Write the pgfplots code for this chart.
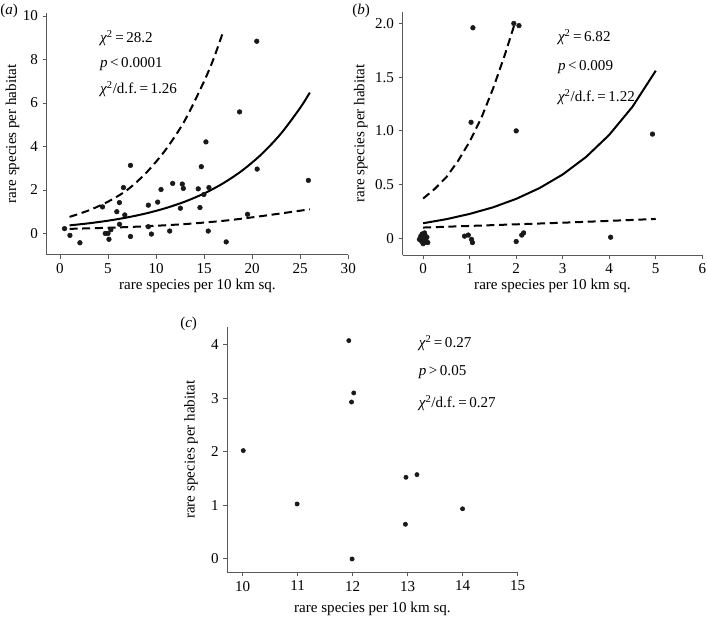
\documentclass[border=0pt]{standalone}
\usepackage{fontspec}
\setmainfont{Liberation Serif}
\usepackage{pgfplots}
\pgfplotsset{compat=1.18}

\definecolor{axisgray}{gray}{0.35}
\pgfplotsset{
  panel/.style={
    scale only axis,
    anchor=south west,
    axis x line*=bottom, axis y line*=left,
    axis line style={axisgray, line width=0.6pt, -},
    tick style={axisgray, line width=0.6pt},
    tick align=outside, major tick length=3pt,
    font=\fontsize{11.3}{13}\selectfont,
    /pgf/number format/assume math mode=true,
    xlabel={rare species per 10 km sq.},
    ylabel={rare species per habitat},
    xlabel style={yshift=3pt},
    clip=false,
  },
  % the y label is rotated, so +yshift moves it to the left
  ylab/.style={ylabel style={at={(axis description cs:0,0.5)}, anchor=center, yshift=#1}},
  dot/.style={only marks, mark=*, mark size=1.75pt, black!90},
  fit/.style={black, line width=1.5pt, no marks},
  ci/.style={black, line width=1.5pt, no marks, dash pattern=on 6pt off 3.5pt},
}
\newcommand{\chisq}{{\itshape χ}\textsuperscript{2}}

\begin{document}
\begin{tikzpicture}
\path[use as bounding box] (0,0) rectangle (530.25pt,462.75pt);

% (a)
\begin{axis}[panel, ylab=25.6pt, at={(35.0pt,271.7pt)}, width=226.2pt, height=181.3pt,
  xmin=-1.38, xmax=30, ymin=-0.98, ymax=10.14,
  xtick={0,5,...,30}, ytick={0,2,...,10}]
\addplot[dot] coordinates {(0.48,0.22)(1.04,-0.09)(2.08,-0.43)(4.43,1.22)(4.72,0.0)
 (5.0,0.0)(5.1,-0.27)(5.3,0.17)(5.92,1.0)(6.19,1.42)(6.2,0.42)(6.61,2.11)(6.75,0.85)
 (7.34,3.13)(7.34,-0.14)(9.2,1.3)(9.2,0.31)(9.52,-0.03)(10.17,1.44)(10.52,2.02)
 (11.42,0.11)(11.73,2.3)(12.53,1.16)(12.73,2.27)(12.84,2.07)(14.39,2.05)(14.57,1.19)
 (14.71,3.07)(14.98,1.79)(15.19,4.21)(15.43,0.11)(15.5,2.11)(17.3,-0.39)(18.69,5.59)
 (19.52,0.88)(20.48,8.84)(20.52,2.96)(25.85,2.44)};
\addplot[fit, smooth] coordinates {(1,0.37)(3,0.465)(5,0.585)(7,0.736)(9,0.925)(11,1.163)
 (13,1.462)(15,1.838)(17,2.311)(19,2.906)(21,3.654)(23,4.594)(25,5.778)(26,6.48)};
\addplot[ci, smooth] coordinates {(1,0.76)(3,1.06)(5,1.46)(7,2.0)(9,2.8)(11,3.85)
 (13,5.2)(15,7.0)(16,8.05)(17,9.3)};
\addplot[ci, smooth] coordinates {(1,0.21)(5,0.26)(9,0.33)(13,0.43)(17,0.58)(20,0.74)
 (23,0.92)(26,1.11)};
\node[anchor=west] at (axis cs:3.7,9.0) {\chisq\,=\,28.2};
\node[anchor=west] at (axis cs:3.7,7.8) {\textit{p}\,<\,0.0001};
\node[anchor=west] at (axis cs:3.7,6.63) {\chisq/d.f.\,=\,1.26};
\end{axis}

% (b)
\begin{axis}[panel, ylab=31.5pt, at={(302.0pt,271.3pt)}, width=224.7pt, height=182.7pt,
  xmin=-0.44, xmax=6, ymin=-0.158, ymax=2.11,
  xtick={0,...,6}, ytick={0,0.5,1,1.5,2}, yticklabels={0,0.5,1.0,1.5,2.0}]
\addplot[dot] coordinates {(-0.08,-0.01)(-0.05,0.02)(-0.02,0.04)(0.0,0.0)(0.02,-0.04)
 (0.04,0.03)(0.06,-0.02)(0.08,0.01)(0.1,-0.04)(0.03,0.05)(-0.03,-0.03)(0.05,0.0)(0.0,-0.05)
 (0.89,0.02)(0.97,0.03)(1.04,-0.01)(1.06,-0.04)(1.07,1.96)(1.03,1.08)
 (1.95,2.0)(2.06,1.98)(2.0,1.0)(4.93,0.97)(4.03,0.01)(2.0,-0.03)(2.12,0.03)(2.16,0.05)};
\addplot[fit] coordinates {(0,0.14)(0.5,0.178)(1,0.227)(1.5,0.288)(2,0.367)(2.5,0.467)
 (3,0.594)(3.5,0.756)(4,0.963)(4.5,1.225)(5,1.56)};
\addplot[ci] coordinates {(0,0.37)(0.25,0.46)(0.5,0.57)(0.75,0.72)(1.0,0.90)(1.25,1.12)
 (1.5,1.39)(1.75,1.70)(1.97,2.0)};
\addplot[ci] coordinates {(0,0.10)(1,0.115)(2,0.13)(3,0.145)(4,0.162)(5,0.18)};
\node[anchor=west] at (axis cs:2.8,1.872) {\chisq\,=\,6.82};
\node[anchor=west] at (axis cs:2.8,1.592) {\textit{p}\,<\,0.009};
\node[anchor=west] at (axis cs:2.8,1.312) {\chisq/d.f.\,=\,1.22};
\end{axis}

% (c)
\begin{axis}[panel, ylab=27.2pt, xlabel style={yshift=-4pt},
  at={(170.5pt,33.5pt)}, width=217.65pt, height=184.2pt,
  xmin=9.72, xmax=15, ymin=-0.26, ymax=4.34,
  xtick={10,...,15}, ytick={0,...,4}]
\addplot[dot, mark size=1.6pt] coordinates {(11.93,4.08)(12.02,3.10)(11.98,2.93)(10.01,2.02)
 (10.99,1.02)(11.99,-0.01)(12.97,1.52)(13.17,1.57)(12.96,0.64)(14.0,0.93)};
\node[anchor=west] at (axis cs:13.12,4.03) {\chisq\,=\,0.27};
\node[anchor=west] at (axis cs:13.12,3.49) {\textit{p}\,>\,0.05};
\node[anchor=west] at (axis cs:13.12,2.91) {\chisq/d.f.\,=\,0.27};
\end{axis}

\node[anchor=north west, inner sep=0pt, font=\fontsize{11.3}{13}\selectfont] at (0pt,460pt) {(\textit{a})};
\node[anchor=north west, inner sep=0pt, font=\fontsize{11.3}{13}\selectfont] at (264pt,460pt) {(\textit{b})};
\node[anchor=north west, inner sep=0pt, font=\fontsize{11.3}{13}\selectfont] at (135pt,225pt) {(\textit{c})};
\end{tikzpicture}
\end{document}
